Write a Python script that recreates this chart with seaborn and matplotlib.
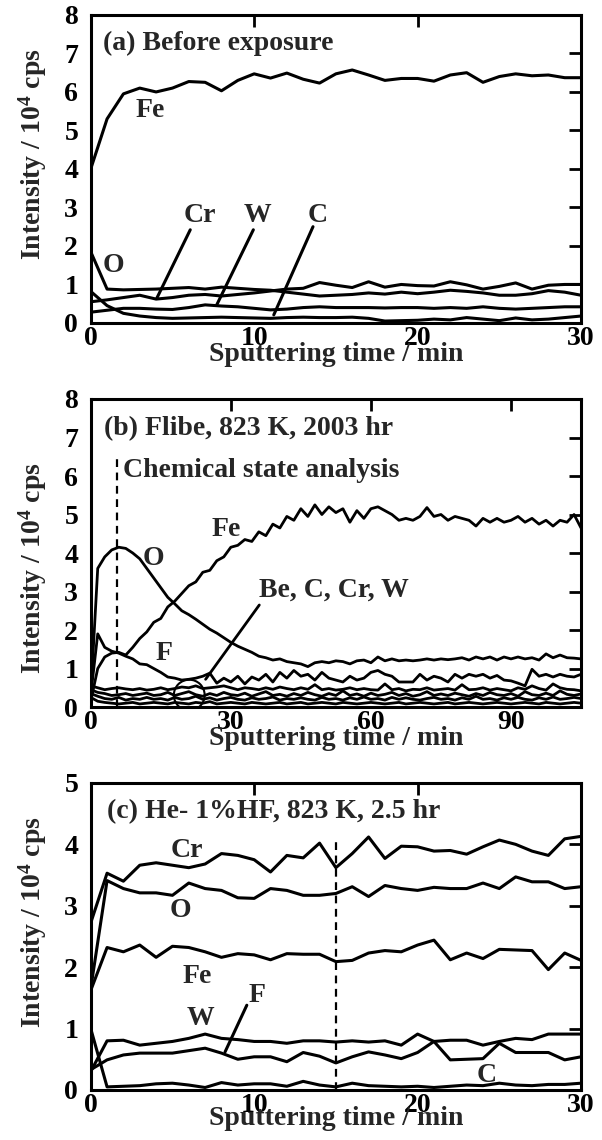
import numpy as np
import pandas as pd
import matplotlib
matplotlib.use("Agg")
import matplotlib.pyplot as plt
import seaborn as sns
from matplotlib.patches import Ellipse

# ---------------- data ----------------
# (a) Before exposure, 1 min steps 0..30
t_a = list(range(0, 31))
fe_a = [4.0, 5.3, 5.95, 6.1, 6.0, 6.1, 6.27, 6.25, 6.03, 6.3, 6.47, 6.36, 6.49, 6.33, 6.23, 6.47,
        6.57, 6.44, 6.3, 6.35, 6.35, 6.28, 6.44, 6.5, 6.25, 6.4, 6.47, 6.42, 6.44, 6.37, 6.37]
o_a = [1.85, 0.88, 0.86, 0.87, 0.88, 0.9, 0.92, 0.88, 0.93, 0.9, 0.87, 0.85, 0.8, 0.75, 0.7, 0.72,
       0.74, 0.78, 0.75, 0.8, 0.76, 0.8, 0.85, 0.82, 0.78, 0.72, 0.72, 0.76, 0.84, 0.8, 0.72]
cr_a = [0.55, 0.6, 0.66, 0.72, 0.62, 0.66, 0.72, 0.74, 0.7, 0.74, 0.78, 0.83, 0.88, 0.9, 1.05, 0.98,
        0.92, 1.07, 0.93, 1.0, 0.97, 0.96, 1.07, 0.99, 0.88, 0.95, 1.04, 0.88, 0.98, 1.0, 1.0]
w_a = [0.28, 0.33, 0.38, 0.38, 0.36, 0.35, 0.4, 0.47, 0.44, 0.42, 0.38, 0.34, 0.36, 0.4, 0.42, 0.4,
       0.4, 0.4, 0.39, 0.4, 0.4, 0.38, 0.4, 0.38, 0.42, 0.38, 0.36, 0.38, 0.4, 0.42, 0.42]
c_a = [0.82, 0.45, 0.25, 0.18, 0.14, 0.12, 0.13, 0.14, 0.15, 0.14, 0.13, 0.12, 0.14, 0.15, 0.14, 0.14,
       0.15, 0.12, 0.05, 0.06, 0.07, 0.1, 0.08, 0.14, 0.1, 0.06, 0.13, 0.08, 0.1, 0.14, 0.18]

# (b) Flibe, 823 K, 2003 hr, 1.5 min steps 0..105
t_b = [1.5 * i for i in range(71)]
fe_b = [0.15, 1.0, 1.3, 1.4, 1.42, 1.35, 1.55, 1.78, 1.95, 2.2,
        2.3, 2.6, 2.75, 2.95, 3.15, 3.25, 3.5, 3.55, 3.8, 3.9,
        4.15, 4.2, 4.35, 4.3, 4.55, 4.45, 4.75, 4.65, 4.95, 4.85,
        5.15, 4.95, 5.25, 5.0, 5.2, 5.05, 5.15, 4.8, 5.1, 4.9,
        5.15, 5.2, 5.1, 5.0, 4.85, 4.9, 4.85, 4.95, 5.18, 4.95,
        5.0, 4.85, 4.95, 4.9, 4.85, 4.7, 4.9, 4.8, 4.9, 4.8,
        4.85, 4.95, 4.8, 4.9, 4.75, 4.85, 4.7, 4.85, 4.8, 5.0,
        4.65]
o_b = [0.3, 3.6, 3.9, 4.08, 4.15, 4.12, 4.0, 3.85, 3.6, 3.35,
       3.1, 2.85, 2.68, 2.5, 2.4, 2.28, 2.15, 2.02, 1.92, 1.8,
       1.68, 1.58, 1.5, 1.42, 1.32, 1.28, 1.22, 1.25, 1.18, 1.15,
       1.12, 1.05, 1.15, 1.18, 1.15, 1.2, 1.18, 1.12, 1.2, 1.22,
       1.15, 1.3, 1.2, 1.25, 1.2, 1.22, 1.2, 1.22, 1.25, 1.22,
       1.25, 1.23, 1.25, 1.28, 1.22, 1.3, 1.25, 1.3, 1.22, 1.3,
       1.25, 1.3, 1.25, 1.28, 1.22, 1.38, 1.28, 1.35, 1.28, 1.27,
       1.25]
f_b = [0.3, 1.9, 1.55, 1.45, 1.4, 1.32, 1.25, 1.12, 1.1, 1.0,
       0.9, 0.78, 0.75, 0.7, 0.72, 0.75, 0.8, 0.88, 0.62, 0.75,
       0.65, 0.8, 0.6, 0.78, 0.7, 0.85, 0.65, 0.9, 0.75, 0.95,
       0.8, 0.85, 0.7, 0.9, 0.75, 0.7, 0.65, 0.8, 0.7, 0.75,
       0.9, 0.95, 0.85, 0.8, 0.65, 0.65, 0.65, 0.85, 0.7, 0.8,
       0.75, 0.65, 0.85, 0.75, 0.85, 0.8, 0.85, 0.75, 0.82, 0.7,
       0.68, 0.62, 0.55, 0.98, 0.8, 0.85, 0.78, 0.85, 0.8, 0.78,
       0.85]
be_b = [0.55, 0.5, 0.45, 0.48, 0.5, 0.47, 0.45, 0.48, 0.44, 0.46,
        0.5, 0.45, 0.48, 0.52, 0.5, 0.55, 0.48, 0.5, 0.52, 0.55,
        0.5, 0.45, 0.5, 0.48, 0.45, 0.5, 0.46, 0.52, 0.48, 0.45,
        0.5, 0.46, 0.58, 0.45, 0.48, 0.44, 0.46, 0.5, 0.45, 0.48,
        0.45, 0.44, 0.6, 0.45, 0.48, 0.42, 0.46, 0.45, 0.5, 0.44,
        0.46, 0.48, 0.44, 0.58, 0.45, 0.46, 0.5, 0.44, 0.48, 0.45,
        0.42, 0.5, 0.46, 0.55, 0.48, 0.44, 0.6, 0.5, 0.46, 0.45,
        0.42]
c_b = [0.45, 0.38, 0.35, 0.3, 0.32, 0.35, 0.3, 0.33, 0.36, 0.3,
       0.32, 0.38, 0.3, 0.35, 0.4, 0.32, 0.28, 0.35, 0.3, 0.38,
       0.32, 0.3, 0.36, 0.28, 0.34, 0.4, 0.3, 0.33, 0.28, 0.35,
       0.3, 0.38, 0.32, 0.28, 0.35, 0.3, 0.42, 0.3, 0.34, 0.28,
       0.36, 0.3, 0.33, 0.38, 0.3, 0.35, 0.28, 0.32, 0.4, 0.3,
       0.34, 0.3, 0.36, 0.32, 0.28, 0.35, 0.3, 0.38, 0.32, 0.3,
       0.35, 0.28, 0.4, 0.32, 0.3, 0.36, 0.3, 0.42, 0.33, 0.3,
       0.34]
cr_b = [0.35, 0.28, 0.22, 0.2, 0.25, 0.18, 0.22, 0.2, 0.25, 0.2,
        0.22, 0.18, 0.25, 0.2, 0.22, 0.28, 0.2, 0.24, 0.18, 0.22,
        0.25, 0.2, 0.18, 0.24, 0.2, 0.22, 0.26, 0.18, 0.22, 0.2,
        0.24, 0.2, 0.18, 0.25, 0.2, 0.22, 0.18, 0.24, 0.2, 0.26,
        0.2, 0.22, 0.18, 0.25, 0.2, 0.24, 0.2, 0.18, 0.22, 0.25,
        0.2, 0.22, 0.18, 0.24, 0.2, 0.28, 0.2, 0.22, 0.18, 0.24,
        0.2, 0.25, 0.2, 0.18, 0.24, 0.2, 0.26, 0.2, 0.22, 0.25,
        0.22]
w_b = [0.25, 0.15, 0.12, 0.1, 0.08, 0.1, 0.12, 0.08, 0.1, 0.12,
       0.1, 0.08, 0.12, 0.1, 0.08, 0.12, 0.1, 0.14, 0.08, 0.1,
       0.12, 0.1, 0.08, 0.12, 0.1, 0.08, 0.1, 0.12, 0.08, 0.1,
       0.12, 0.08, 0.1, 0.12, 0.1, 0.08, 0.12, 0.1, 0.08, 0.1,
       0.12, 0.1, 0.08, 0.1, 0.12, 0.08, 0.1, 0.12, 0.1, 0.08,
       0.1, 0.12, 0.08, 0.1, 0.12, 0.1, 0.08, 0.1, 0.12, 0.1,
       0.08, 0.1, 0.12, 0.1, 0.08, 0.12, 0.1, 0.08, 0.1, 0.12,
       0.1]

# (c) He-1%HF, 823 K, 2.5 hr, 1 min steps 0..30
t_c = list(range(0, 31))
cr_c = [2.72, 3.53, 3.4, 3.66, 3.7, 3.66, 3.62, 3.68, 3.85, 3.82, 3.75, 3.55, 3.82, 3.78, 4.02, 3.62,
        3.85, 4.12, 3.77, 3.97, 3.96, 3.89, 3.9, 3.84, 3.96, 4.07, 4.0, 3.89, 3.82, 4.09, 4.13]
o_c = [1.65, 3.41, 3.28, 3.21, 3.21, 3.17, 3.37, 3.28, 3.25, 3.13, 3.12, 3.28, 3.25, 3.17, 3.17, 3.2,
       3.31, 3.15, 3.33, 3.28, 3.25, 3.3, 3.28, 3.28, 3.37, 3.28, 3.47, 3.39, 3.39, 3.28, 3.31]
fe_c = [1.62, 2.32, 2.25, 2.36, 2.16, 2.34, 2.32, 2.25, 2.16, 2.22, 2.2, 2.12, 2.22, 2.21, 2.21, 2.09,
        2.11, 2.23, 2.27, 2.25, 2.36, 2.44, 2.12, 2.23, 2.14, 2.29, 2.28, 2.27, 1.96, 2.23, 2.11]
w_c = [0.3, 0.8, 0.81, 0.73, 0.76, 0.79, 0.84, 0.91, 0.84, 0.82, 0.79, 0.79, 0.76, 0.8, 0.8, 0.78,
       0.8, 0.78, 0.8, 0.73, 0.91, 0.79, 0.49, 0.5, 0.51, 0.76, 0.61, 0.61, 0.61, 0.49, 0.54]
f_c = [0.33, 0.49, 0.57, 0.6, 0.6, 0.6, 0.64, 0.68, 0.6, 0.5, 0.54, 0.54, 0.46, 0.61, 0.55, 0.44,
       0.54, 0.62, 0.57, 0.51, 0.61, 0.79, 0.81, 0.81, 0.73, 0.79, 0.84, 0.82, 0.91, 0.91, 0.91]
c_c = [1.0, 0.05, 0.06, 0.07, 0.1, 0.11, 0.08, 0.04, 0.12, 0.08, 0.1, 0.1, 0.06, 0.14, 0.08, 0.05,
       0.11, 0.07, 0.06, 0.05, 0.06, 0.04, 0.06, 0.08, 0.07, 0.11, 0.08, 0.07, 0.09, 0.09, 0.11]

titles = ["(a) Before exposure", "(b) Flibe, 823 K, 2003 hr", "(c) He- 1%HF, 823 K, 2.5 hr"]
xlabel = "Sputtering time / min"
ylabel = "Intensity / 10$^4$ cps"

# ---------------- style ----------------
sns.set_style("white")
plt.rcParams["font.family"] = ["Liberation Serif", "DejaVu Serif"]
plt.rcParams["font.weight"] = "bold"
plt.rcParams["mathtext.fontset"] = "custom"
plt.rcParams["mathtext.rm"] = "Liberation Serif:bold"
plt.rcParams["mathtext.it"] = "Liberation Serif:bold"
plt.rcParams["mathtext.bf"] = "Liberation Serif:bold"

FS = 20
fig = plt.figure(figsize=(6.02, 11.40), dpi=100)
left, width = 0.1507, 0.8145
ax_a = fig.add_axes([left, 0.7167, width, 0.2702])
ax_b = fig.add_axes([left, 0.3798, width, 0.2702])
ax_c = fig.add_axes([left, 0.0439, width, 0.2693])


def draw(ax, x, y, lw=2.2):
    sns.lineplot(x=x, y=y, ax=ax, color="black", lw=lw, estimator=None, sort=False, legend=False)


def style(ax, xlim, ylim, xticks, yticks, ylab_y, xlab_y):
    ax.set_xlim(*xlim)
    ax.set_ylim(*ylim)
    ax.set_xticks(xticks)
    ax.set_yticks(yticks)
    ax.set_xticklabels([str(v) for v in xticks])
    ax.set_yticklabels([str(v) for v in yticks])
    for s in ax.spines.values():
        s.set_visible(True)
        s.set_linewidth(2.2)
        s.set_color("black")
    ax.tick_params(axis="both", which="major", direction="in", length=8.5, width=2.0,
                   top=True, right=True, labelsize=FS, colors="black")
    ax.tick_params(axis="y", pad=9)
    ax.tick_params(axis="x", pad=2)
    for lab in ax.get_xticklabels() + ax.get_yticklabels():
        lab.set_fontweight("bold")
    ax.set_xlabel(xlabel, fontsize=FS, fontweight="bold")
    ax.set_ylabel(ylabel, fontsize=FS, fontweight="bold")
    ax.xaxis.set_label_coords(0.5, xlab_y)
    ax.xaxis.label.set_va("center")
    ax.yaxis.set_label_coords(-0.118, ylab_y)
    ax.yaxis.label.set_va("center")
    ax.set_facecolor("white")
    ax.grid(False)


# ---- (a)
for ser in (fe_a, o_a, cr_a, w_a, c_a):
    draw(ax_a, t_a, ser)
style(ax_a, (0, 30), (0, 8), [0, 10, 20, 30], list(range(9)), 0.549, -0.104)
ax_a.text(0.77, 7.26, titles[0], fontsize=FS, fontweight="bold", va="center", ha="left")
ax_a.text(3.63, 5.53, "Fe", fontsize=FS, fontweight="bold", va="center", ha="center")
ax_a.text(1.38, 1.5, "O", fontsize=FS, fontweight="bold", va="center", ha="center")
ax_a.text(6.69, 2.8, "Cr", fontsize=FS, fontweight="bold", va="center", ha="center")
ax_a.text(10.2, 2.8, "W", fontsize=FS, fontweight="bold", va="center", ha="center")
ax_a.text(13.9, 2.8, "C", fontsize=FS, fontweight="bold", va="center", ha="center")
ax_a.plot([6.09, 4.04], [2.42, 0.64], color="black", lw=2.2)
ax_a.plot([9.95, 7.71], [2.42, 0.47], color="black", lw=2.2)
ax_a.plot([13.6, 11.2], [2.5, 0.21], color="black", lw=2.2)

# ---- (b)
for ser in (fe_b, o_b, f_b, be_b, c_b, cr_b, w_b):
    draw(ax_b, t_b, ser, lw=2.0)
style(ax_b, (0, 105), (0, 8), [0, 30, 60, 90], list(range(9)), 0.45, -0.102)
ax_b.plot([5.7, 5.7], [0, 6.55], color="black", lw=1.6, ls=(0, (3.5, 2.5)))
ax_b.text(2.8, 7.24, titles[1], fontsize=FS, fontweight="bold", va="center", ha="left")
ax_b.text(7.0, 6.15, "Chemical state analysis", fontsize=FS, fontweight="bold", va="center", ha="left")
ax_b.text(29.1, 4.6, "Fe", fontsize=FS, fontweight="bold", va="center", ha="center")
ax_b.text(13.4, 3.86, "O", fontsize=FS, fontweight="bold", va="center", ha="center")
ax_b.text(15.6, 1.39, "F", fontsize=FS, fontweight="bold", va="center", ha="center")
ax_b.text(36.1, 3.03, "Be, C, Cr, W", fontsize=FS, fontweight="bold", va="center", ha="left")
ax_b.plot([36.1, 24.6], [2.65, 0.72], color="black", lw=2.0)
ax_b.add_patch(Ellipse((21.1, 0.31), width=6.6, height=0.8, fill=False, ec="black", lw=1.5))

# ---- (c)
for ser in (cr_c, o_c, fe_c, w_c, f_c, c_c):
    draw(ax_c, t_c, ser)
style(ax_c, (0, 30), (0, 5), [0, 10, 20, 30], list(range(6)), 0.548, -0.092)
ax_c.plot([15, 15], [0, 4.04], color="black", lw=1.6, ls=(0, (3.5, 2.5)))
ax_c.text(0.98, 4.53, titles[2], fontsize=FS, fontweight="bold", va="center", ha="left")
ax_c.text(5.87, 3.9, "Cr", fontsize=FS, fontweight="bold", va="center", ha="center")
ax_c.text(5.5, 2.93, "O", fontsize=FS, fontweight="bold", va="center", ha="center")
ax_c.text(6.49, 1.84, "Fe", fontsize=FS, fontweight="bold", va="center", ha="center")
ax_c.text(6.69, 1.17, "W", fontsize=FS, fontweight="bold", va="center", ha="center")
ax_c.text(10.16, 1.54, "F", fontsize=FS, fontweight="bold", va="center", ha="center")
ax_c.text(24.2, 0.24, "C", fontsize=FS, fontweight="bold", va="center", ha="center")
ax_c.plot([9.55, 8.22], [1.38, 0.62], color="black", lw=2.2)

fig.savefig("out.png", dpi=100, facecolor="white")
